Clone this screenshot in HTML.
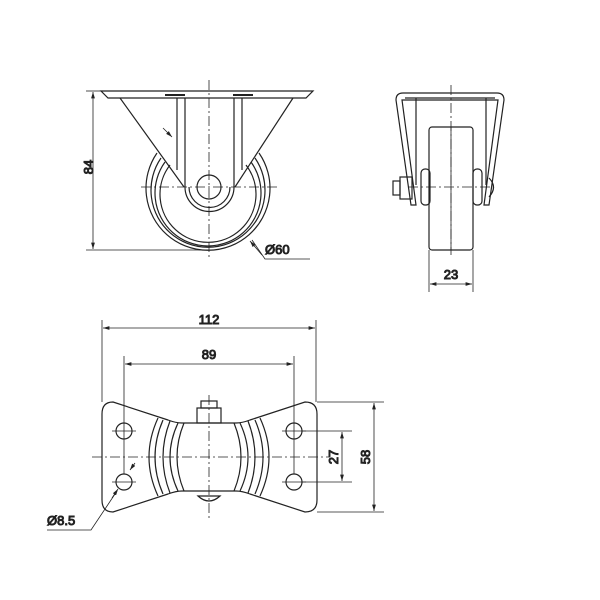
<!DOCTYPE html>
<html><head><style>body{margin:0;background:#fff}svg{display:block}text{font-family:"Liberation Sans",sans-serif;font-size:13px;fill:#222}</style></head><body>
<svg width="600" height="600" viewBox="0 0 600 600" xmlns="http://www.w3.org/2000/svg" fill="none" stroke="#222" stroke-width="1">
<defs><marker id="a" viewBox="0 0 10 6" refX="10" refY="3" markerWidth="8" markerHeight="5" orient="auto-start-reverse"><path d="M0,0L10,3L0,6z" fill="#222" stroke="none"/></marker></defs>
<!-- FRONT VIEW -->
<g stroke-width="1.2">
<path d="M101,91H313L306,98H108Z"/>
<line x1="120" y1="98" x2="184" y2="187"/><line x1="293" y1="98" x2="235" y2="187"/>
<line x1="177" y1="98" x2="177" y2="170"/><line x1="185" y1="98" x2="185" y2="187"/>
<line x1="234" y1="98" x2="234" y2="187"/><line x1="242" y1="98" x2="242" y2="170"/>
<path d="M165,95h20M233,95h20" stroke-width="2"/>
<path d="M157,153A62,62 0 1 0 259,153"/>
<path d="M161,158A57,57 0 1 0 255,158"/>
<path d="M165,162A53,53 0 1 0 251,162"/>
<path d="M170,165A48,48 0 1 0 246,165"/>
<path d="M185,187A24,24 0 0 0 234,187"/>
<path d="M189,187A20,20 0 0 0 230,187"/>
<circle cx="209" cy="187" r="12"/>
</g>
<g stroke-width="0.8" stroke-dasharray="10,3,2,3"><line x1="141" y1="187" x2="279" y2="187"/><line x1="209" y1="80" x2="209" y2="258"/></g>
<line x1="86" y1="91" x2="101" y2="91" stroke-width="0.8"/><line x1="86" y1="250" x2="209" y2="250" stroke-width="0.8"/>
<line x1="93" y1="92" x2="93" y2="249" stroke-width="0.8" marker-start="url(#a)" marker-end="url(#a)"/>
<text x="98" y="172" transform="rotate(-90 93 172)" text-anchor="middle">84</text>
<path d="M163,128L172,137" stroke-width="0.8" marker-end="url(#a)"/>
<path d="M252,240L265,259H310" stroke-width="0.8"/><path d="M262,255L250,241" stroke-width="0.8" marker-end="url(#a)"/>
<text x="265" y="254">Ø60</text>
<!-- SIDE VIEW -->
<g stroke-width="1.2">
<path d="M396,100Q396,93 403,93H497Q504,93 504,100L489,205H484L498,100H402L416,205H411Z"/>
<line x1="405" y1="98" x2="495" y2="98"/>
<line x1="416" y1="98" x2="416" y2="185"/><line x1="486" y1="98" x2="486" y2="185"/>
<rect x="429" y="127" width="44" height="123" rx="3"/>
<rect x="421" y="169" width="9" height="36" rx="4"/><rect x="473" y="169" width="9" height="36" rx="4"/>
<rect x="400" y="177" width="12" height="22"/><rect x="393" y="181" width="7" height="14"/>
<path d="M489,178Q498,187 489,197"/>
</g>
<g stroke-width="0.8" stroke-dasharray="10,3,2,3"><line x1="451" y1="85" x2="451" y2="255"/><line x1="408" y1="187" x2="494" y2="187"/></g>
<line x1="451" y1="127" x2="451" y2="250" stroke-width="0.8"/>
<line x1="429" y1="250" x2="429" y2="292" stroke-width="0.8"/><line x1="473" y1="250" x2="473" y2="292" stroke-width="0.8"/>
<line x1="430" y1="284" x2="472" y2="284" stroke-width="0.8" marker-start="url(#a)" marker-end="url(#a)"/>
<text x="451" y="279" text-anchor="middle">23</text>
<!-- BOTTOM VIEW -->
<g stroke-width="1.2">
<path d="M113,402L168,420Q176,423 182,423H236Q242,423 250,420L305,402Q317,402 317,414V500Q317,512 305,512L250,494Q242,491 236,491H182Q176,491 168,494L113,512Q102,512 102,500V414Q102,402 113,402Z"/>
<path d="M158,418Q140,457 158,496M163,420Q147,457 163,494M170,421Q156,457 170,493M178,423Q162,457 178,491"/>
<path d="M260,418Q278,457 260,496M255,420Q271,457 255,494M248,421Q262,457 248,493M240,423Q256,457 240,491"/>
<path d="M184,423Q170,457 184,491M234,423Q248,457 234,491"/>
<rect x="197" y="408" width="24" height="15"/><rect x="201" y="401" width="16" height="7"/>
<path d="M198,496Q209,506 220,496Z"/>
<circle cx="124" cy="431" r="8"/><circle cx="124" cy="482" r="8"/><circle cx="294" cy="431" r="8"/><circle cx="294" cy="482" r="8"/>
</g>
<g stroke-width="0.8" stroke-dasharray="10,3,2,3"><line x1="92" y1="457" x2="330" y2="457"/><line x1="209" y1="395" x2="209" y2="520"/></g>
<g stroke-width="0.8">
<path d="M112,431h24M112,482h24M282,431h24M282,482h24"/>
<line x1="102" y1="320" x2="102" y2="402"/><line x1="316" y1="320" x2="316" y2="402"/>
<line x1="124" y1="356" x2="124" y2="474"/><line x1="294" y1="356" x2="294" y2="474"/>
<line x1="103" y1="328" x2="315" y2="328" marker-start="url(#a)" marker-end="url(#a)"/>
<line x1="125" y1="364" x2="293" y2="364" marker-start="url(#a)" marker-end="url(#a)"/>
<line x1="302" y1="431" x2="352" y2="431"/><line x1="302" y1="482" x2="352" y2="482"/>
<line x1="317" y1="402" x2="384" y2="402"/><line x1="317" y1="512" x2="384" y2="512"/>
<line x1="342" y1="432" x2="342" y2="481" marker-start="url(#a)" marker-end="url(#a)"/>
<line x1="374" y1="403" x2="374" y2="511" marker-start="url(#a)" marker-end="url(#a)"/>
<path d="M135,463L130,470" marker-end="url(#a)"/>
<path d="M117,491L91,530H47"/><path d="M112,498L118,489" marker-end="url(#a)"/>
</g>
<text x="209" y="324" text-anchor="middle">112</text>
<text x="209" y="359" text-anchor="middle">89</text>
<text x="338" y="457" transform="rotate(-90 338 457)" text-anchor="middle">27</text>
<text x="370" y="457" transform="rotate(-90 370 457)" text-anchor="middle">58</text>
<text x="47" y="525">Ø8.5</text>
</svg>
</body></html>
